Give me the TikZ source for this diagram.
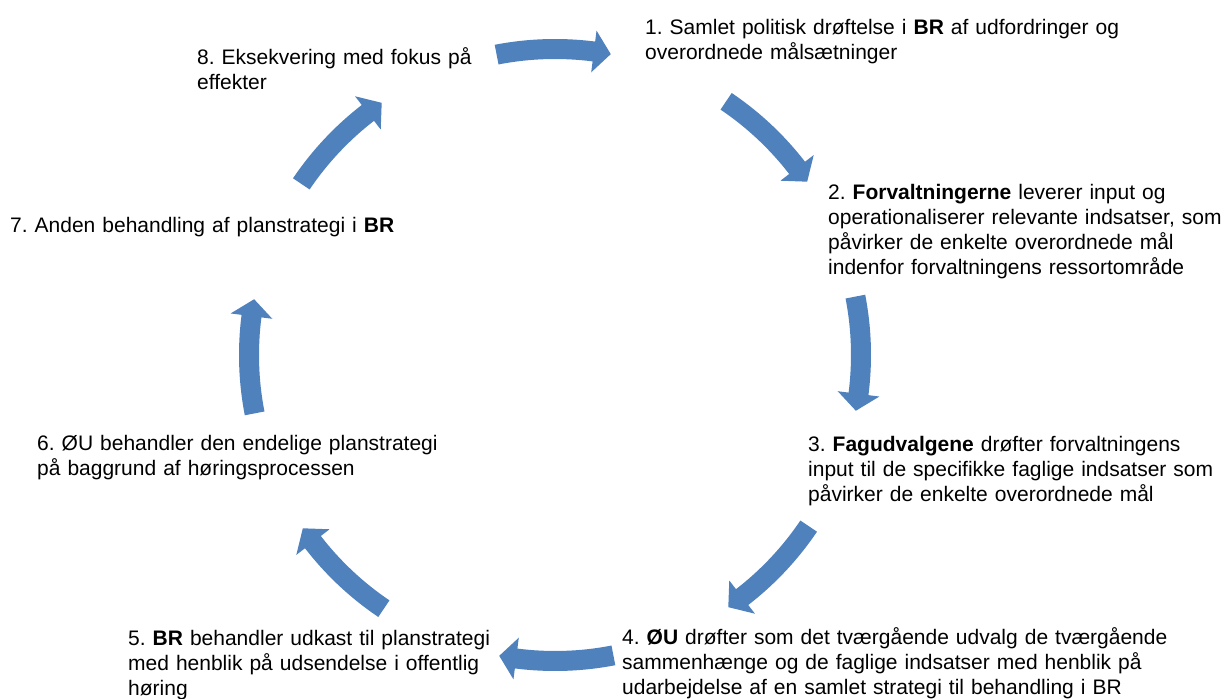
\documentclass[tikz,border=0pt]{standalone}
\usepackage{fontspec}
\setmainfont{Liberation Sans}
\usepackage{xcolor}
\usepackage{tikz}
\frenchspacing

\definecolor{cycleblue}{RGB}{79,129,189}

% one curved block arrow of the cycle, centred on angle #1
\newcommand{\cyclearrow}[1]{%
  \fill[cycleblue] ({#1+11}:316pt) arc[start angle={#1+11}, end angle={#1-7.3}, radius=316pt]
    -- ({#1-7.3}:327pt) -- ({#1-10.5}:306pt) -- ({#1-7.3}:285pt)
    -- ({#1-7.3}:296pt) arc[start angle={#1-7.3}, end angle={#1+11}, radius=296pt] -- cycle;}

\begin{document}
\begin{tikzpicture}[x=1pt,y=1pt,
  stagetext/.style={anchor=base west, inner sep=0pt, text width=600pt, align=left,
    font=\fontsize{21}{24.7}\selectfont}]
  \useasboundingbox[fill=white] (0,0) rectangle (1227,699);

  % Arrows
  \begin{scope}[shift={(555pt,344pt)}]
    \foreach \ang in {90,45,...,-225}
      \cyclearrow{\ang};
  \end{scope}

  % Stages
  \node[stagetext] (s1) at (645,664) {1. Samlet politisk drøftelse i \textbf{BR} af udfordringer og\\overordnede målsætninger};
  \node[stagetext] (s2) at (828,499) {2. \textbf{Forvaltningerne} leverer input og\\operationaliserer relevante indsatser, som\\påvirker de enkelte overordnede mål\\indenfor forvaltningens ressortområde};
  \node[stagetext] (s3) at (808,247) {3. \textbf{Fagudvalgene} drøfter forvaltningens\\input til de specifikke faglige indsatser som\\påvirker de enkelte overordnede mål};
  \node[stagetext] (s4) at (622,54) {4. \textbf{ØU} drøfter som det tværgående udvalg de tværgående\\sammenhænge og de faglige indsatser med henblik på\\udarbejdelse af en samlet strategi til behandling i BR};
  \node[stagetext] (s5) at (128,53) {5. \textbf{BR} behandler udkast til planstrategi\\med henblik på udsendelse i offentlig\\høring};
  \node[stagetext] (s6) at (37,248) {6. ØU behandler den endelige planstrategi\\på baggrund af høringsprocessen};
  \node[stagetext] (s7) at (10,466) {7. Anden behandling af planstrategi i \textbf{BR}};
  \node[stagetext] (s8) at (197,634) {8. Eksekvering med fokus på\\effekter};
\end{tikzpicture}
\end{document}
